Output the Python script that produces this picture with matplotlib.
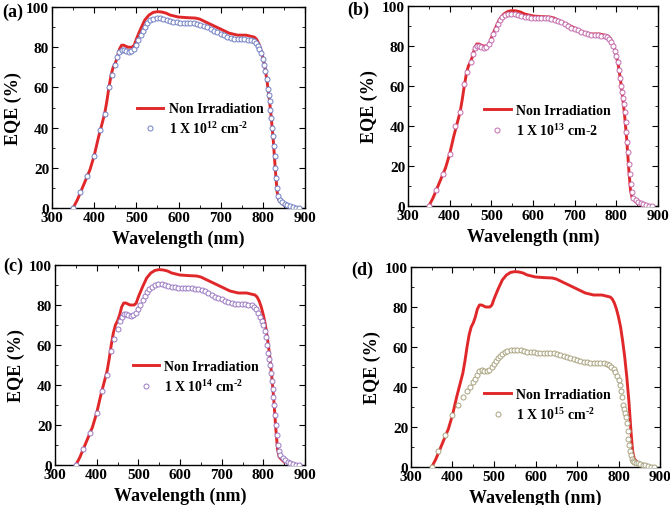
import matplotlib
matplotlib.use('Agg')
import matplotlib.pyplot as plt
from matplotlib.ticker import MultipleLocator

plt.rcParams['font.family'] = 'Liberation Serif'
plt.rcParams['font.weight'] = 'bold'
plt.rcParams['mathtext.fontset'] = 'custom'
plt.rcParams['mathtext.rm'] = 'Liberation Serif:bold'
plt.rcParams['mathtext.bf'] = 'Liberation Serif:bold'
plt.rcParams['mathtext.default'] = 'bf'

# Non irradiated reference cell (same curve in every panel)
wl_ref = [350, 360, 370, 380, 390, 400, 410, 420, 425, 430, 435, 440, 445, 450, 455,
          460, 465, 470, 475, 480, 485, 490, 495, 500, 510, 520, 530, 540, 550, 560,
          570, 580, 590, 600, 620, 640, 650, 660, 670, 680, 690, 700, 720, 740, 760,
          770, 780, 785, 790, 795, 800, 805, 810, 815, 820, 825, 830, 834, 838, 845, 850]
eqe_ref = [0, 4, 9, 14, 19, 26, 35, 43, 47, 53, 60, 66, 70, 72, 75,
           79, 81, 81, 80.5, 80, 80, 80, 81, 84, 89, 93.5, 96, 97.3, 97.7, 97.5,
           97, 96, 95.5, 95, 94.7, 94.5, 94, 93, 92, 91, 90, 89, 87, 86, 86,
           85.5, 85, 84, 82, 79, 75, 70, 63, 55, 45, 33, 18, 8, 4, 2.5, 1.5]

# Irradiated cells (wavelength grid shared by the four fluences)
wl_irr = [350, 366, 383, 400, 413, 425, 434, 442, 450, 455, 460, 465, 470, 476, 482,
          488, 494, 500, 505, 510, 515, 520, 526, 532, 540, 548, 556, 564, 572, 580,
          588, 596, 604, 612, 620, 628, 636, 644, 652, 660, 668, 676, 684, 692, 700,
          708, 716, 724, 732, 740, 748, 756, 764, 772, 778, 783, 788, 792, 796, 800,
          803, 806, 809, 812, 814, 816, 818, 820, 822, 824, 826, 828, 830, 832, 834,
          837, 841, 846, 852, 858, 864, 871, 878, 885]

eqe_1e12 = [0, 8, 16, 26, 39, 47, 60, 66, 71, 75, 77.5, 78.5, 78.5, 78, 77.5,
            78, 79, 81, 83.5, 86, 88, 90, 92, 93.5, 94, 94.5, 94.5, 94, 93.5, 93,
            92.5, 92.5, 92, 92, 92, 92, 92, 91.5, 91, 90.5, 90, 89, 88, 87.5, 86.5,
            86, 85, 84.5, 84, 84, 84, 84, 83.5, 83.5, 83, 82, 80.5, 79, 77, 74,
            71, 68, 64, 59, 56, 53, 49, 45, 40, 36, 31, 26, 20, 15, 10,
            6, 4, 3, 2, 1.5, 1, 0.5, 0, 0]

eqe_1e13 = [0, 8, 16, 26, 40, 47, 61, 67, 72, 76, 79, 80, 80, 79.5, 79,
            79.5, 81, 83, 86, 88.5, 91, 93, 94.5, 95.5, 96, 96, 96, 95.5, 95, 94.5,
            94.5, 94, 94, 94, 94, 94, 94, 93.5, 93, 92.5, 92, 91, 90, 89, 88.5,
            88, 87, 86.5, 86, 85.5, 85.5, 85.5, 85, 85, 84.5, 83.5, 82, 80, 77.5, 75,
            72, 68, 64, 60, 57, 54, 51, 47, 42, 37, 32, 27, 21, 16, 11,
            7, 4, 3, 2, 1.5, 1, 0.3, 0, 0]

eqe_1e14 = [0, 8, 16, 26, 37, 45, 57, 63, 68, 72, 74, 75.5, 75.5, 75, 74.5,
            75, 76, 78, 80, 82.5, 84.5, 86.5, 88, 89, 90, 90.5, 90.5, 90, 89.5, 89,
            89, 88.5, 88.5, 88.5, 88.5, 88.5, 88, 88, 87.5, 87, 86, 85, 84, 83.5, 83,
            82, 81.5, 81, 80.5, 80.5, 80.5, 80.5, 80, 80, 79, 78, 76, 74, 72, 70,
            67, 64, 60, 56, 53, 50, 46, 42, 38, 34, 30, 25, 20, 15, 10,
            7, 5, 3.5, 2.5, 1.5, 1, 0.5, 0, 0]

eqe_1e15 = [0, 8, 16, 26, 31, 35, 38, 40, 42.5, 44, 46, 48, 48.5, 48, 48,
            48.5, 50, 51.5, 53, 54.5, 55.5, 56.5, 57.5, 58, 58.5, 58.5, 58.5, 58.5, 58, 57.5,
            57.5, 57.5, 57, 57, 57, 57, 57, 57, 56.5, 56, 55.5, 55, 54.5, 54, 53.5,
            53, 52.5, 52.5, 52, 52, 52, 52, 52, 51.5, 51, 50, 49, 47.5, 45.5, 43.5,
            41, 38, 35, 31, 29, 27, 25, 22, 18, 14, 11, 8, 6, 4, 3,
            2.5, 2, 2, 1.5, 1, 0.8, 0.5, 0, 0]

panels = ['(a)', '(b)', '(c)', '(d)']
irr_series = [eqe_1e12, eqe_1e13, eqe_1e14, eqe_1e15]
irr_labels = [r'1 X 10$^{\text{12}}$ cm$^{\text{-2}}$', r'1 X 10$^{\text{13}}$ cm-2',
              r'1 X 10$^{\text{14}}$ cm$^{\text{-2}}$', r'1 X 10$^{\text{15}}$ cm$^{\text{-2}}$']
irr_colors = ['#6f7fc4', '#c46aae', '#9a78c2', '#a9a27e']

# axes rectangles in pixels (left, top, right, bottom) for a 670x506 figure
W, H = 670, 506
rects = [(52, 8, 305, 209), (408, 7, 658, 207), (55, 266, 305, 466), (411, 268, 660, 468)]
label_pos = [(2, 12), (347, 10), (3, 266), (351, 270)]
legend_pos = [(0.336, 0.525), (0.305, 0.51), (0.31, 0.525), (0.295, 0.395)]

fig = plt.figure(figsize=(6.7, 5.06), dpi=100)

for i in range(4):
    l, t, r, b = rects[i]
    ax = fig.add_axes([l / W, 1 - b / H, (r - l) / W, (b - t) / H])
    ax.plot(wl_ref, eqe_ref, color='#e0282a', lw=2.1, label='Non Irradiation', zorder=2)
    ax.plot(wl_irr, irr_series[i], ls='none', marker='o', ms=3.6, mew=0.7,
            mfc='white', mec=irr_colors[i], label=irr_labels[i], zorder=3)
    ax.set_xlim(300, 900)
    ax.set_ylim(0, 100)
    ax.xaxis.set_major_locator(MultipleLocator(100))
    ax.xaxis.set_minor_locator(MultipleLocator(50))
    ax.yaxis.set_major_locator(MultipleLocator(20))
    ax.yaxis.set_minor_locator(MultipleLocator(10))
    ax.tick_params(which='both', direction='in', top=True, right=True, labelsize=11, pad=2)
    ax.tick_params(which='major', length=4, width=0.8)
    ax.tick_params(which='minor', length=2, width=0.6)
    for s in ax.spines.values():
        s.set_linewidth(1.0)
    ax.set_xlabel('Wavelength (nm)', fontsize=13, fontweight='bold', labelpad=4)
    ax.set_ylabel('EQE (%)', fontsize=13, fontweight='bold', labelpad=3)
    ax.legend(loc='upper left', bbox_to_anchor=legend_pos[i], frameon=False,
              fontsize=10, handlelength=1.9, handletextpad=0.4, labelspacing=0.35,
              borderpad=0, borderaxespad=0)
    fig.text(label_pos[i][0] / W, 1 - label_pos[i][1] / H, panels[i],
             fontsize=13, fontweight='bold', va='center', ha='left')

fig.savefig('out.png', dpi=100)
